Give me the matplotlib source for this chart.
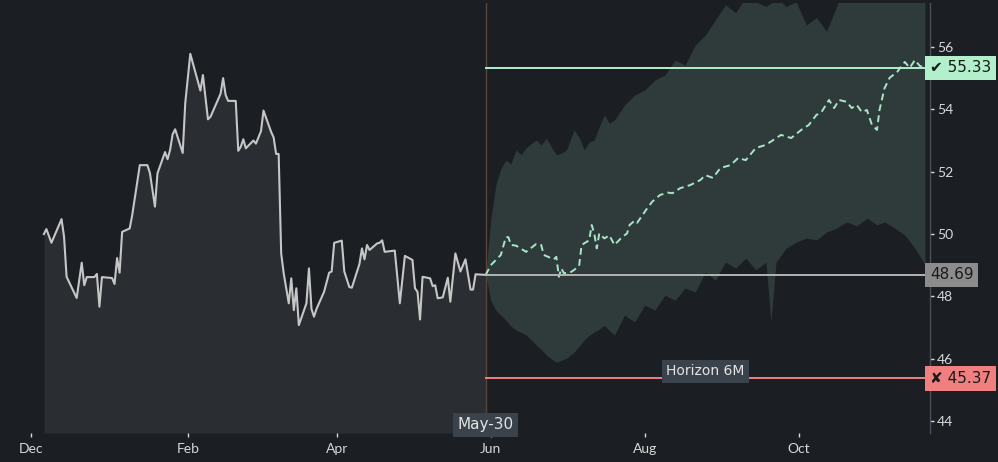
import numpy as np
import matplotlib
matplotlib.use("Agg")
import matplotlib.pyplot as plt
import matplotlib.transforms as mtransforms

# ---------------- data ----------------
base_date = np.datetime64('2022-12-01')

hist_day = [5, 6, 8, 12, 13, 14, 18, 20, 21, 22, 25, 26, 27, 28, 32, 33, 34, 35, 36, 39,
            40, 43, 46, 47, 49, 50, 53, 54, 55, 56, 57, 60, 61, 63, 67, 68, 70, 71, 75, 76,
            77, 78, 81, 82, 83, 84, 85, 88, 89, 91, 92, 95, 96, 97, 98, 99, 100, 102, 103, 104,
            105, 106, 109, 110, 111, 112, 113, 116, 118, 119, 120, 123, 124, 126, 127, 130, 131, 132, 133, 134,
            137, 138, 139, 140, 144, 146, 148, 151, 152, 153, 154, 155, 158, 159, 160, 161, 163, 165, 166, 168,
            170, 172, 174, 175, 176, 180]
hist_val = [50.00, 50.16, 49.72, 50.48, 49.91, 48.63, 47.95, 49.08, 48.36, 48.62, 48.62, 48.72, 47.67, 48.62, 48.59, 48.40, 49.23, 48.76, 50.07, 50.18,
            50.61, 52.21, 52.21, 51.96, 50.88, 51.95, 52.63, 52.40, 52.70, 53.20, 53.36, 52.60, 54.20, 55.78, 54.60, 55.10, 53.68, 53.76, 54.50, 55.00,
            54.46, 54.27, 54.27, 52.67, 52.80, 53.04, 52.75, 53.00, 52.90, 53.30, 53.96, 53.28, 53.10, 52.57, 52.57, 49.38, 48.74, 47.78, 48.58, 47.56,
            48.26, 47.08, 47.78, 48.90, 47.60, 47.35, 47.60, 48.15, 48.76, 48.80, 49.72, 49.79, 48.80, 48.30, 48.28, 49.04, 49.54, 49.19, 49.65, 49.49,
            49.70, 49.72, 49.80, 49.43, 49.47, 47.78, 49.30, 49.17, 48.26, 48.15, 47.26, 48.63, 48.58, 48.33, 48.36, 47.94, 47.97, 48.60, 47.83, 49.38,
            48.80, 49.19, 48.22, 48.22, 48.71, 48.69]

med_day = [180, 182, 186, 188, 189, 190, 192, 196, 200, 202, 203, 207, 208, 209, 210, 211, 214, 217, 218, 221,
           222, 223, 224, 225, 227, 229, 231, 234, 236, 237, 239, 240, 244, 246, 249, 252, 254, 257, 261, 265,
           267, 270, 273, 277, 280, 283, 287, 291, 294, 297, 301, 305, 308, 311, 313, 316, 318, 320, 323, 325,
           327, 329, 331, 333, 335, 336, 338, 340, 343, 346, 348, 350, 352, 354]
med_val = [48.69, 49.00, 49.33, 49.90, 49.90, 49.65, 49.63, 49.43, 49.68, 49.65, 49.33, 49.19, 49.27, 48.63, 48.90, 48.74, 48.79, 48.97, 49.65, 49.80,
           50.29, 50.02, 49.54, 50.02, 49.86, 49.96, 49.65, 49.90, 50.02, 50.29, 50.43, 50.36, 50.83, 51.04, 51.25, 51.33, 51.31, 51.47, 51.57, 51.73,
           51.89, 51.80, 52.12, 52.21, 52.44, 52.37, 52.76, 52.86, 53.02, 53.18, 53.08, 53.34, 53.50, 53.82, 53.91, 54.30, 54.04, 54.30, 54.24, 54.04,
           54.14, 53.91, 53.98, 53.50, 53.34, 53.98, 54.68, 55.01, 55.20, 55.52, 55.33, 55.58, 55.39, 55.33]

band_day = [180, 182, 184, 186, 188, 190, 192, 194, 196, 198, 200, 202, 204, 206, 208, 210, 212, 215, 217, 219,
            221, 223, 225, 227, 229, 231, 235, 239, 243, 247, 251, 255, 259, 263, 267, 271, 275, 279, 283, 287,
            291, 293, 295, 299, 303, 307, 311, 315, 319, 323, 327, 331, 335, 338, 342, 346, 350, 354]
band_hi = [48.69, 50.45, 51.57, 52.10, 52.37, 52.25, 52.70, 52.55, 52.76, 52.90, 53.02, 52.85, 53.08, 52.80, 52.54, 52.60, 52.70, 53.34, 53.10, 52.70,
           52.95, 53.02, 53.45, 53.82, 53.55, 53.66, 54.14, 54.46, 54.62, 54.94, 55.10, 55.58, 55.42, 56.06, 56.38, 56.87, 57.35, 57.10, 57.60, 57.45,
           57.30, 57.40, 57.60, 57.30, 57.45, 56.70, 56.95, 56.50, 57.30, 58.20, 58.20, 58.20, 58.20, 58.20, 58.20, 58.20, 58.20, 58.20]
band_lo = [48.69, 47.88, 47.56, 47.40, 47.24, 47.05, 46.92, 46.85, 46.76, 46.60, 46.44, 46.30, 46.12, 46.00, 45.89, 45.95, 46.02, 46.21, 46.40, 46.60,
           46.75, 46.86, 46.95, 47.08, 46.90, 46.76, 47.40, 47.18, 47.72, 47.56, 48.04, 47.88, 48.27, 48.14, 48.78, 48.52, 49.10, 48.91, 49.23, 48.85,
           49.10, 47.18, 49.10, 49.55, 49.74, 49.87, 49.81, 50.06, 50.19, 50.39, 50.26, 50.51, 50.29, 50.39, 50.19, 49.97, 49.55, 49.01]

last_price = 48.69
target_hi = 55.33
target_lo = 45.37
split_day = 180
horizon_end_day = 354

month_ticks = ['2022-12-01', '2023-02-01', '2023-04-01', '2023-06-01', '2023-08-01', '2023-10-01']
month_labels = ['Dec', 'Feb', 'Apr', 'Jun', 'Aug', 'Oct']
y_ticks = [44, 46, 48, 50, 52, 54, 56]

# ---------------- style ----------------
BG = '#1b1e22'
HIST_FILL = '#2a2d32'
BAND = '#2f3b3a'
HIST_LINE = '#c6c6c6'
MED = '#a8e6c8'
GREEN = '#b2f0cc'
RED = '#f08080'
GREY_LINE = '#b4b4b4'
GREY_BOX = '#8c8c8c'
DARK_BOX = '#3a424b'
TXT = '#d8d8d8'

def to_dates(days):
    return base_date + np.array(days).astype('timedelta64[D]')

hd = to_dates(hist_day)
md = to_dates(med_day)
bd = to_dates(band_day)
split = to_dates([split_day])[0]
hend = to_dates([horizon_end_day])[0]
x_left = base_date - np.timedelta64(10, 'D')
x_right = base_date + np.timedelta64(356, 'D')

fig = plt.figure(figsize=(9.98, 4.62), dpi=100, facecolor=BG)
ax = fig.add_axes([6/998, 1 - 433/462, 924/998, 430/462])
ax.set_facecolor(BG)

ymin, ymax = 43.62, 57.41
ax.set_ylim(ymin, ymax)
ax.set_xlim(x_left, x_right)

# history
ax.fill_between(hd, hist_val, ymin, color=HIST_FILL, lw=0, zorder=1)
ax.plot(hd, hist_val, color=HIST_LINE, lw=1.5, zorder=4)

# forecast band
ax.fill_between(bd, band_lo, band_hi, color=BAND, lw=0, zorder=1)
ax.plot(md, med_val, color=MED, lw=1.4, ls=(0, (3.5, 2.2)), zorder=5)

# split line
ax.axvline(split, color='#5a4638', lw=1, zorder=2)

# horizontal levels
for val, col in [(target_hi, GREEN), (last_price, GREY_LINE), (target_lo, RED)]:
    ax.plot(np.array([split, x_right]), [val, val], color=col, lw=1.4, zorder=6)

trans = mtransforms.blended_transform_factory(ax.transAxes, ax.transData)
box_kw = dict(boxstyle='square,pad=0.3', lw=0)
ax.text(1.0, target_hi, '\u2714 %.2f' % target_hi, transform=trans, ha='left', va='center',
        fontsize=11, color='#1a1a1a', family='DejaVu Sans', zorder=10, clip_on=False,
        bbox=dict(fc=GREEN, **box_kw))
ax.text(1.0, last_price, '%.2f' % last_price, transform=trans, ha='left', va='center',
        fontsize=11, color='#1a1a1a', family='DejaVu Sans', zorder=10, clip_on=False,
        bbox=dict(fc=GREY_BOX, **box_kw))
ax.text(1.0, target_lo, '\u2718 %.2f' % target_lo, transform=trans, ha='left', va='center',
        fontsize=11, color='#1a1a1a', family='DejaVu Sans', zorder=10, clip_on=False,
        bbox=dict(fc=RED, **box_kw))

# horizon label
mid = split + (hend - split) / 2
ax.annotate('Horizon 6M', xy=(mid, target_lo), xytext=(0, 7), textcoords='offset pixels',
            ha='center', va='center', fontsize=10, color='#e4e4e4', family='DejaVu Sans',
            zorder=11, bbox=dict(fc=DARK_BOX, boxstyle='square,pad=0.3', lw=0))

# split date label
ax.annotate('May-30', xy=(split, 0), xycoords=('data', 'axes fraction'), xytext=(0, 8),
            textcoords='offset pixels', ha='center', va='center', fontsize=11, color='#e4e4e4',
            family='DejaVu Sans', zorder=11, annotation_clip=False,
            bbox=dict(fc=DARK_BOX, boxstyle='square,pad=0.3', lw=0))

# axes styling
for s in ['top', 'left', 'bottom']:
    ax.spines[s].set_visible(False)
ax.spines['right'].set_color('#4b5157')
ax.spines['right'].set_linewidth(1)

ax.set_xticks(np.array([np.datetime64(t) for t in month_ticks]))
ax.set_xticklabels(month_labels)
ax.yaxis.tick_right()
ax.set_yticks(y_ticks)
ax.set_yticklabels([str(v) for v in y_ticks])
ax.tick_params(axis='x', colors=TXT, length=3, width=1, pad=4, labelsize=10)
ax.tick_params(axis='y', colors=TXT, length=3, width=1, pad=2, labelsize=10)
for lab in ax.get_xticklabels() + ax.get_yticklabels():
    lab.set_family('Lato')
    lab.set_color(TXT)

fig.savefig('out.png', dpi=100, facecolor=BG)
